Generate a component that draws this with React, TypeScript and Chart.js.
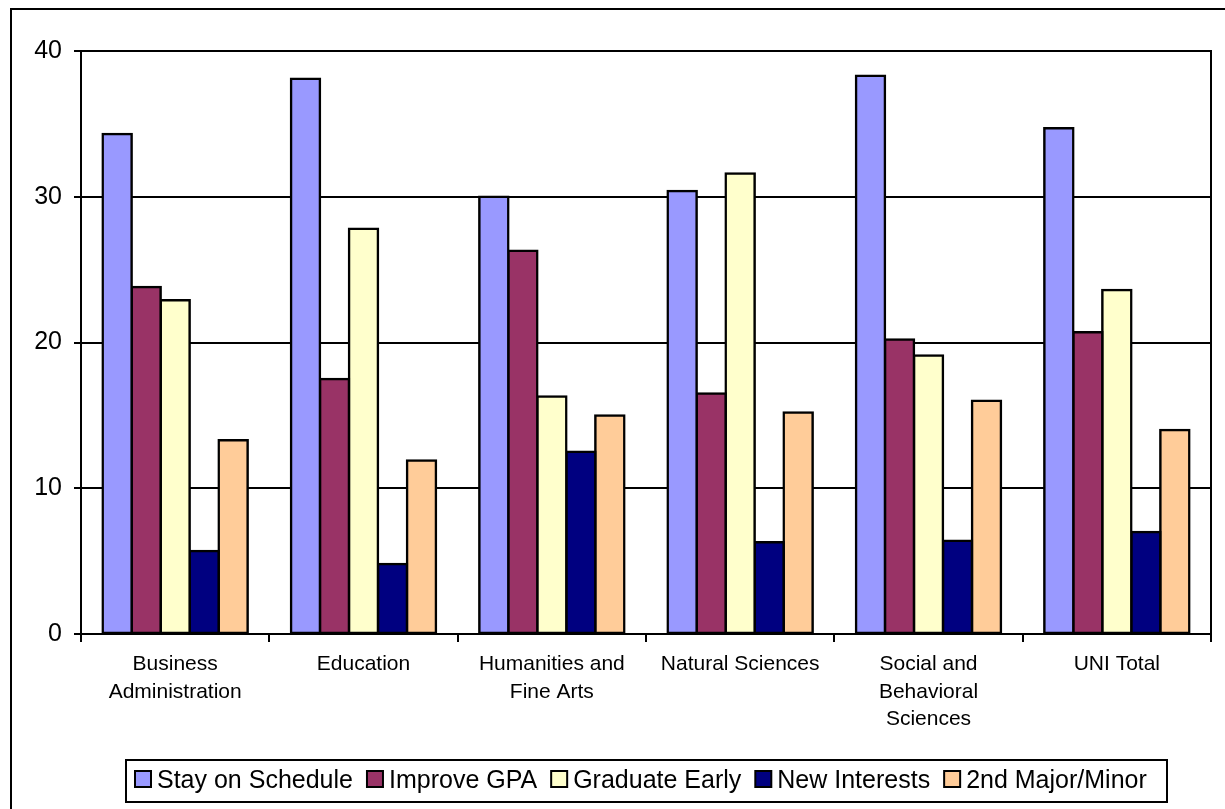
import React, { useEffect, useRef } from "react";
import { Chart, registerables } from "chart.js";

Chart.register(...registerables);

const categories: string[][] = [
  ["Business", "Administration"],
  ["Education"],
  ["Humanities and", "Fine Arts"],
  ["Natural Sciences"],
  ["Social and", "Behavioral", "Sciences"],
  ["UNI Total"],
];

const seriesNames = [
  "Stay on Schedule",
  "Improve GPA",
  "Graduate Early",
  "New Interests",
  "2nd Major/Minor",
];

const stayOnSchedule = [34.3, 38.1, 30.0, 30.4, 38.3, 34.7];
const improveGPA = [23.8, 17.5, 26.3, 16.5, 20.2, 20.7];
const graduateEarly = [22.9, 27.8, 16.3, 31.6, 19.1, 23.6];
const newInterests = [5.7, 4.8, 12.5, 6.3, 6.4, 7.0];
const secondMajorMinor = [13.3, 11.9, 15.0, 15.2, 16.0, 14.0];

const seriesValues = [stayOnSchedule, improveGPA, graduateEarly, newInterests, secondMajorMinor];
const seriesColors = ["#9999FF", "#993366", "#FFFFCC", "#000080", "#FFCC99"];

const yTicks = [0, 10, 20, 30, 40];

const FONT = "'Liberation Sans', Arial, sans-serif";

const framePlugin = {
  id: "framePlugin",
  beforeDraw(chart: any) {
    const ctx = chart.ctx;
    ctx.save();
    ctx.fillStyle = "#fff";
    ctx.fillRect(0, 0, chart.width, chart.height);
    ctx.restore();
  },
  afterDraw(chart: any) {
    const ctx = chart.ctx;
    const a = chart.chartArea;
    ctx.save();
    ctx.strokeStyle = "#000";
    ctx.lineWidth = 2;
    // outer frame (right/bottom edges outside the view)
    ctx.strokeRect(11, 9, chart.width + 20, chart.height + 20);
    // plot area right border
    ctx.beginPath();
    ctx.moveTo(a.right, a.top - 1);
    ctx.lineTo(a.right, a.bottom);
    ctx.stroke();

    // legend
    const bx = 126, by = 760, bw = 1041, bh = 42;
    ctx.strokeRect(bx, by, bw, bh);
    ctx.font = `25px ${FONT}`;
    ctx.textBaseline = "alphabetic";
    ctx.fillStyle = "#000";
    let x = bx + 9;
    const sq = 16;
    const sqTop = 771;
    chart.data.datasets.forEach((ds: any) => {
      ctx.fillStyle = ds.backgroundColor;
      ctx.fillRect(x, sqTop, sq, sq);
      ctx.lineWidth = 2;
      ctx.strokeStyle = "#000";
      ctx.strokeRect(x, sqTop, sq, sq);
      const tx = x + sq + 6;
      ctx.fillStyle = "#000";
      ctx.fillText(ds.label, tx, 788);
      x = tx + ctx.measureText(ds.label).width + 14;
    });
    ctx.restore();
  },
};

export default function App() {
  const ref = useRef<HTMLCanvasElement | null>(null);
  useEffect(() => {
    if (!ref.current) return;
    const chart = new Chart(ref.current, {
      type: "bar",
      data: {
        labels: categories,
        datasets: seriesNames.map((name, i) => ({
          label: name,
          data: seriesValues[i],
          backgroundColor: seriesColors[i],
          borderColor: "#000",
          borderWidth: 2.5,
          borderSkipped: false,
          inflateAmount: 1.25,
          categoryPercentage: 0.77,
          barPercentage: 1,
        })),
      },
      options: {
        animation: false,
        responsive: false,
        devicePixelRatio: 1,
        layout: { padding: { top: 51, right: 14, left: 0, bottom: 0 } },
        plugins: {
          legend: { display: false },
          tooltip: { enabled: false },
        },
        scales: {
          x: {
            offset: true,
            grid: {
              offset: true,
              drawOnChartArea: false,
              drawTicks: true,
              tickLength: 8,
              color: "#000",
              lineWidth: 2,
            },
            border: { display: true, color: "#000", width: 2 },
            ticks: {
              color: "#000",
              font: { family: FONT, size: 21, lineHeight: 1.3 },
              padding: 9,
              maxRotation: 0,
              autoSkip: false,
            },
            afterFit(scale: any) {
              scale.height = 175;
            },
          },
          y: {
            min: 0,
            max: 40,
            afterBuildTicks(scale: any) {
              scale.ticks = yTicks.map((v) => ({ value: v }));
            },
            grid: {
              color: "#000",
              lineWidth: 2,
              drawTicks: true,
              tickLength: 7,
            },
            border: { display: true, color: "#000", width: 2 },
            ticks: {
              color: "#000",
              font: { family: FONT, size: 25 },
              padding: 12,
            },
            afterFit(scale: any) {
              scale.width = 81;
            },
          },
        },
      },
      plugins: [framePlugin],
    });
    return () => chart.destroy();
  }, []);
  return (
    <canvas
      ref={ref}
      width={1225}
      height={809}
      style={{ position: "absolute", left: 0, top: 0, width: 1225, height: 809 }}
    />
  );
}
